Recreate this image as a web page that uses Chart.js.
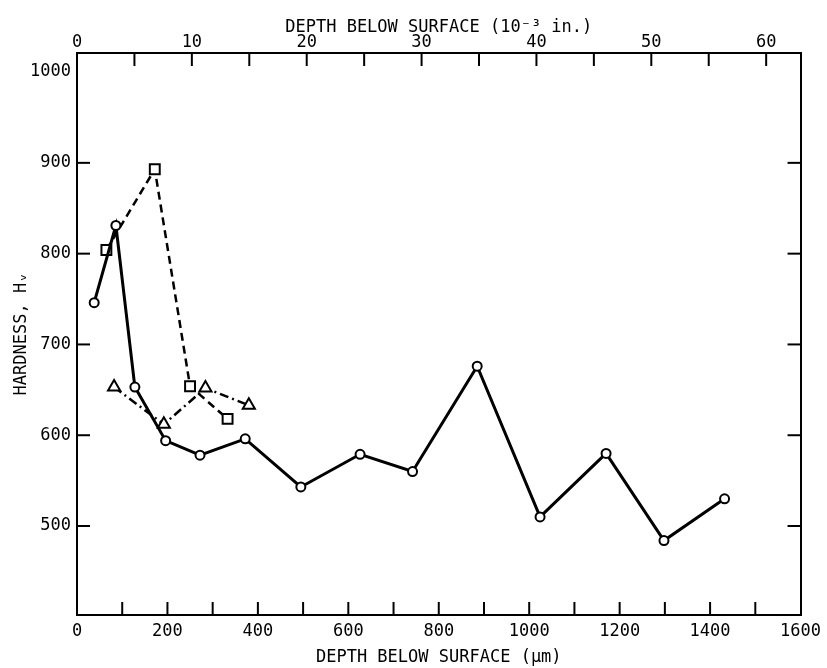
<!DOCTYPE html>
<html>
<head>
<meta charset="utf-8">
<script src="https://cdn.jsdelivr.net/npm/chart.js@4/dist/chart.umd.min.js"></script>
<style>
html,body{margin:0;padding:0;background:#fff;}
canvas{display:block;}
</style>
</head>
<body>
<canvas id="hardnessChart" width="827" height="668"></canvas>
<script>
// depth below surface (um) and Vickers hardness
const circleDepth=[38,86,128,196,272,372,495,626,742,885,1024,1170,1298,1432];
const circleHV=[746,831,653,594,578,596,543,579,560,676,510,580,484,530];
const squareDepth=[65,172,250,333];
const squareHV=[804,893,654,618];
const triDepth=[82,192,284,380];
const triHV=[653,612,652,633];
const hvTicks=[500,600,700,800,900,1000];
const UM_PER_MIL=25.4;

const FONT='"DejaVu Sans Mono", monospace';

function pts(xs,ys){return xs.map((x,i)=>({x:x,y:ys[i]}));}

// inward tick marks like the original figure
const inwardTicks={
  id:'inwardTicks',
  afterDraw(chart){
    const ctx=chart.ctx, a=chart.chartArea, len=13;
    ctx.save();
    ctx.strokeStyle='#000';
    ctx.lineWidth=2;
    const near=(p,e)=>Math.abs(p-e)<8;
    chart.scales.x.ticks.forEach(t=>{
      const px=chart.scales.x.getPixelForValue(t.value);
      if(near(px,a.left)||near(px,a.right))return;
      ctx.beginPath();ctx.moveTo(px,a.bottom);ctx.lineTo(px,a.bottom-len);ctx.stroke();
    });
    chart.scales.x2.ticks.forEach(t=>{
      const px=chart.scales.x2.getPixelForValue(t.value);
      if(near(px,a.left)||near(px,a.right))return;
      ctx.beginPath();ctx.moveTo(px,a.top);ctx.lineTo(px,a.top+len);ctx.stroke();
    });
    chart.scales.y.ticks.forEach(t=>{
      const py=chart.scales.y.getPixelForValue(t.value);
      if(py<a.top+25||py>a.bottom-8)return;
      ctx.beginPath();ctx.moveTo(a.left,py);ctx.lineTo(a.left+len,py);ctx.stroke();
      ctx.beginPath();ctx.moveTo(a.right,py);ctx.lineTo(a.right-len,py);ctx.stroke();
    });
    ctx.restore();
  }
};

const yRange={min:402,max:1021};

new Chart(document.getElementById('hardnessChart'),{
  type:'scatter',
  data:{datasets:[
    {
      data:pts(circleDepth,circleHV),showLine:true,order:0,
      borderColor:'#000',borderWidth:3,
      pointStyle:'circle',pointRadius:4.5,pointBorderWidth:2,
      pointBorderColor:'#000',pointBackgroundColor:'#fff'
    },
    {
      data:pts(squareDepth,squareHV),showLine:true,order:1,
      borderColor:'#000',borderWidth:2.5,borderDash:[8,5],
      pointStyle:'rect',pointRadius:7,pointBorderWidth:2,
      pointBorderColor:'#000',pointBackgroundColor:'#fff'
    },
    {
      data:pts(triDepth,triHV),showLine:true,order:2,
      borderColor:'#000',borderWidth:2.5,borderDash:[9,4,2,4],
      pointStyle:'triangle',pointRadius:7,pointBorderWidth:2,
      pointBorderColor:'#000',pointBackgroundColor:'#fff'
    }
  ]},
  options:{
    responsive:false,
    animation:false,
    devicePixelRatio:1,
    layout:{padding:0},
    plugins:{legend:{display:false},tooltip:{enabled:false}},
    scales:{
      x:{
        type:'linear',position:'bottom',min:0,max:1600,
        afterFit:s=>{s.height=53;},
        border:{display:true,color:'#000',width:2},
        grid:{display:false,drawTicks:false},
        ticks:{stepSize:100,autoSkip:false,maxRotation:0,padding:6,color:'#000',
          font:{family:FONT,size:17},
          callback:v=>v%200===0?String(v):''},
        title:{display:true,text:'DEPTH BELOW SURFACE (\u00b5m)',color:'#000',
          font:{family:FONT,size:17},padding:{top:0,bottom:0}}
      },
      x2:{
        type:'linear',position:'top',min:0,max:1600/UM_PER_MIL,
        afterFit:s=>{s.height=53;},
        border:{display:true,color:'#000',width:2},
        grid:{display:false,drawTicks:false},
        ticks:{stepSize:5,includeBounds:false,autoSkip:false,maxRotation:0,padding:0,color:'#000',
          font:{family:FONT,size:17},
          callback:v=>v%10===0?String(v):''},
        title:{display:true,text:'DEPTH BELOW SURFACE (10\u207b\u00b3 in.)',color:'#000',
          font:{family:FONT,size:17},padding:{top:17,bottom:0}}
      },
      y:{
        type:'linear',position:'left',min:yRange.min,max:yRange.max,
        afterFit:s=>{s.width=77;},
        afterBuildTicks:s=>{s.ticks=hvTicks.map(v=>({value:v}));},
        border:{display:true,color:'#000',width:2},
        grid:{display:false,drawTicks:false},
        ticks:{padding:6,color:'#000',font:{family:FONT,size:17},callback:v=>String(v)},
        title:{display:true,text:'HARDNESS, H\u1d65',color:'#000',
          font:{family:FONT,size:17},padding:{top:11,bottom:0}}
      },
      y2:{
        type:'linear',position:'right',min:yRange.min,max:yRange.max,
        afterFit:s=>{s.width=24;},
        afterBuildTicks:s=>{s.ticks=hvTicks.map(v=>({value:v}));},
        border:{display:true,color:'#000',width:2},
        grid:{display:false,drawTicks:false},
        ticks:{display:false}
      }
    }
  },
  plugins:[inwardTicks]
});
</script>
</body>
</html>
